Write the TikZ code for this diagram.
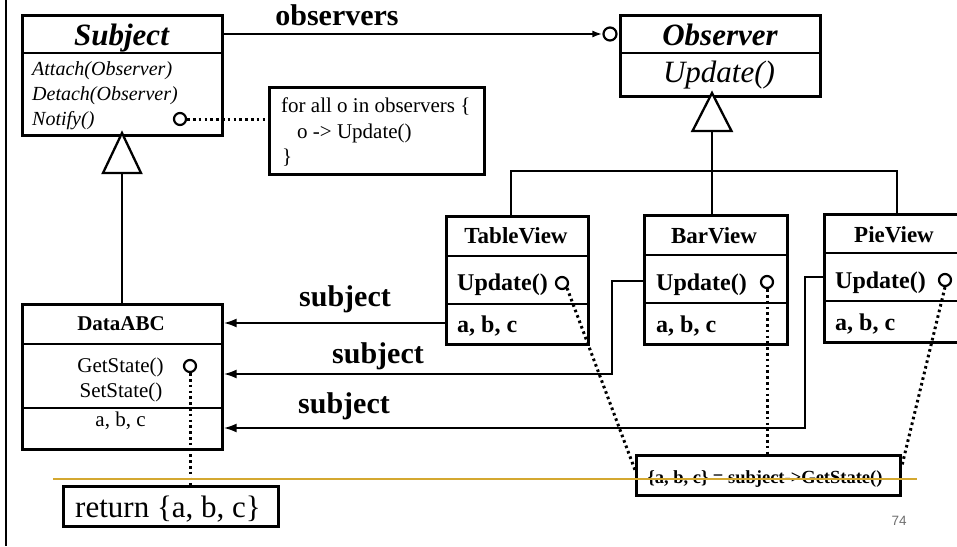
\documentclass[tikz,border=0pt]{standalone}
\usepackage{fontspec}
\setmainfont{Liberation Serif}
\newfontfamily\pagefont{Liberation Sans}
\usetikzlibrary{arrows.meta}
\newcommand\fsz[1]{\fontsize{#1}{#1}\selectfont}
\definecolor{gold}{RGB}{212,168,48}
\definecolor{pagegray}{RGB}{110,110,110}
\begin{document}
\begin{tikzpicture}[x=1pt,y=-1pt,
  box/.style={draw, line width=2.6pt, inner sep=0pt, anchor=north west},
  conn/.style={line width=2.3pt},
  dots/.style={line width=3pt, dash pattern=on 2.6pt off 3.2pt},
  port/.style={circle, draw, line width=2.2pt, fill=white, minimum size=12pt, inner sep=0pt},
  tri/.style={draw, line width=2.3pt, fill=white, line join=miter},
  arr/.style={-{Latex[length=13pt,width=9pt]}},
  lbl/.style={anchor=base, font=\fsz{30}\bfseries}
]
\useasboundingbox (0,0) rectangle (957,546);
\fill[white] (0,0) rectangle (957,546);

% left border line
\coordinate (lt) at (6,0);
\coordinate (lb) at (6,546);
\draw[conn] (lt) -- (lb);

% Subject class
\node[box, minimum width=200pt, minimum height=120pt] (subj) at (21,14) {};
\draw[line width=2.6pt] (21,53) -- (221,53);
\node[anchor=base, font=\fsz{31}\bfseries\itshape] (subjn) at (121.5,45) {Subject};
\node[anchor=base west, font=\fsz{20}\itshape, inner sep=0pt] (att) at (32,75) {Attach(Observer)};
\node[anchor=base west, font=\fsz{20}\itshape, inner sep=0pt] (det) at (32,100) {Detach(Observer)};
\node[anchor=base west, font=\fsz{20}\itshape, inner sep=0pt] (ntf) at (32,125) {Notify()};

% note box
\node[box, minimum width=215pt, minimum height=87pt] (note) at (268,86) {};
\node[anchor=base west, font=\fsz{21}, inner sep=0pt] (n1) at (281,112) {for all o in observers \{};
\node[anchor=base west, font=\fsz{21}, inner sep=0pt] (n2) at (297,138) {o -> Update()};
\node[anchor=base west, font=\fsz{21}, inner sep=0pt] (n3) at (282,163) {\}};
\node[port] (pn) at (180,119) {};
\draw[dots] (pn.east) -- (note.west |- pn.east);

% Observer class
\node[box, minimum width=200pt, minimum height=81pt] (obs) at (619,14) {};
\draw[line width=2.6pt] (619,53) -- (819,53);
\node[anchor=base, font=\fsz{31}\bfseries\itshape] (obsn) at (720,45) {Observer};
\node[anchor=base, font=\fsz{31}\itshape] (obsu) at (719,82) {Update()};

% observers association
\node[circle, draw, line width=2.2pt, minimum size=13pt, inner sep=0pt] (po) at (610,34) {};
\draw[conn, -{Latex[length=10pt,width=7pt]}] (subj.east |- 0,34) -- (po.west);
\node[lbl] (obsl) at (337,25) {observers};

% generalization Subject <- DataABC
\draw[tri] (122,133) -- (141,173) -- (103,173) -- cycle;
\node[box, minimum width=200pt, minimum height=145pt] (data) at (21,303) {};
\draw[conn] (122,173) -- (data.north -| 122,0);
\draw[line width=2.6pt] (21,344) -- (221,344);
\draw[line width=2.6pt] (21,408) -- (221,408);
\node[anchor=base, font=\fsz{21}\bfseries] (datan) at (121,330) {DataABC};
\node[anchor=base, font=\fsz{21}] (gs) at (120.5,372) {GetState()};
\node[anchor=base, font=\fsz{21}] (ss) at (121,397) {SetState()};
\node[anchor=base, font=\fsz{21}] (dabc) at (120.5,426) {a, b, c};
\node[port] (pd) at (190,366) {};

% return box
\node[box, minimum width=215pt, minimum height=40pt] (ret) at (62,485) {};
\node[anchor=base, font=\fsz{31}] (rett) at (168,517) {return \{a, b, c\}};
\draw[dots] (pd.south) -- (ret.north -| pd.south);

% generalization Observer <- views
\draw[tri] (712,93) -- (731.5,131) -- (692.5,131) -- cycle;
\coordinate (jl) at (511,171);
\coordinate (jm) at (712,171);
\coordinate (jr) at (897,171);
\draw[conn] (712,131) -- (jm);
\draw[conn, line cap=rect] (jl) -- (jr);

% TableView
\node[box, minimum width=142pt, minimum height=128pt] (tv) at (445,215) {};
\draw[line width=2.6pt] (445,256) -- (587,256);
\draw[line width=2.6pt] (445,304) -- (587,304);
\node[anchor=base, font=\fsz{23}\bfseries] (tvn) at (516,243) {TableView};
\node[anchor=base west, font=\fsz{24}\bfseries, inner sep=0pt] (tvu) at (457,290) {Update()};
\node[anchor=base west, font=\fsz{24}\bfseries, inner sep=0pt] (tva) at (457,332) {a, b, c};
\node[port] (pt) at (562,283) {};
\draw[conn] (jl) -- (tv.north -| jl);

% BarView
\node[box, minimum width=143pt, minimum height=129pt] (bv) at (643,214) {};
\draw[line width=2.6pt] (643,255) -- (786,255);
\draw[line width=2.6pt] (643,303) -- (786,303);
\node[anchor=base, font=\fsz{23}\bfseries] (bvn) at (714,243) {BarView};
\node[anchor=base west, font=\fsz{24}\bfseries, inner sep=0pt] (bvu) at (656,290) {Update()};
\node[anchor=base west, font=\fsz{24}\bfseries, inner sep=0pt] (bva) at (656,332) {a, b, c};
\node[port] (pb) at (767,282) {};
\draw[conn] (jm) -- (bv.north -| jm);

% PieView
\node[box, minimum width=142pt, minimum height=128pt] (pv) at (823,213) {};
\draw[line width=2.6pt] (823,253) -- (965,253);
\draw[line width=2.6pt] (823,301) -- (965,301);
\node[anchor=base, font=\fsz{23}\bfseries] (pvn) at (894,242) {PieView};
\node[anchor=base west, font=\fsz{24}\bfseries, inner sep=0pt] (pvu) at (835,288) {Update()};
\node[anchor=base west, font=\fsz{24}\bfseries, inner sep=0pt] (pva) at (835,330) {a, b, c};
\node[port] (pp) at (945,280) {};
\draw[conn] (jr) -- (pv.north -| jr);

% subject associations
\draw[conn, arr] (tv.west |- 0,323) -- (data.east |- 0,323);
\node[lbl] (s1) at (345,306) {subject};
\draw[conn, arr] (bv.west |- 0,281) -| (612,374) -- (data.east |- 0,374);
\node[lbl] (s2) at (378,363) {subject};
\draw[conn, arr] (pv.west |- 0,277) -| (805,428) -- (data.east |- 0,428);
\node[lbl] (s3) at (344,413) {subject};

% bottom note
\node[box, minimum width=264pt, minimum height=40pt] (gsn) at (635,454) {};
\node[anchor=base, font=\fsz{18.5}\bfseries] (gst) at (765,483) {\{a, b, c\} = subject->GetState()};
\draw[dots] (pt.south east) -- (gsn.west |- 0,470);
\draw[dots] (pb.south) -- (gsn.north -| pb.south);
\draw[dots] (pp.south) -- (gsn.east |- 0,467);

% gold rule
\coordinate (g1) at (53,479);
\coordinate (g2) at (917,479);
\draw[gold, line width=2pt] (g1) -- (g2);

% page number
\node[anchor=base, font=\pagefont\fsz{13.5}, text=pagegray] (pg) at (899,525) {74};
\end{tikzpicture}
\end{document}
